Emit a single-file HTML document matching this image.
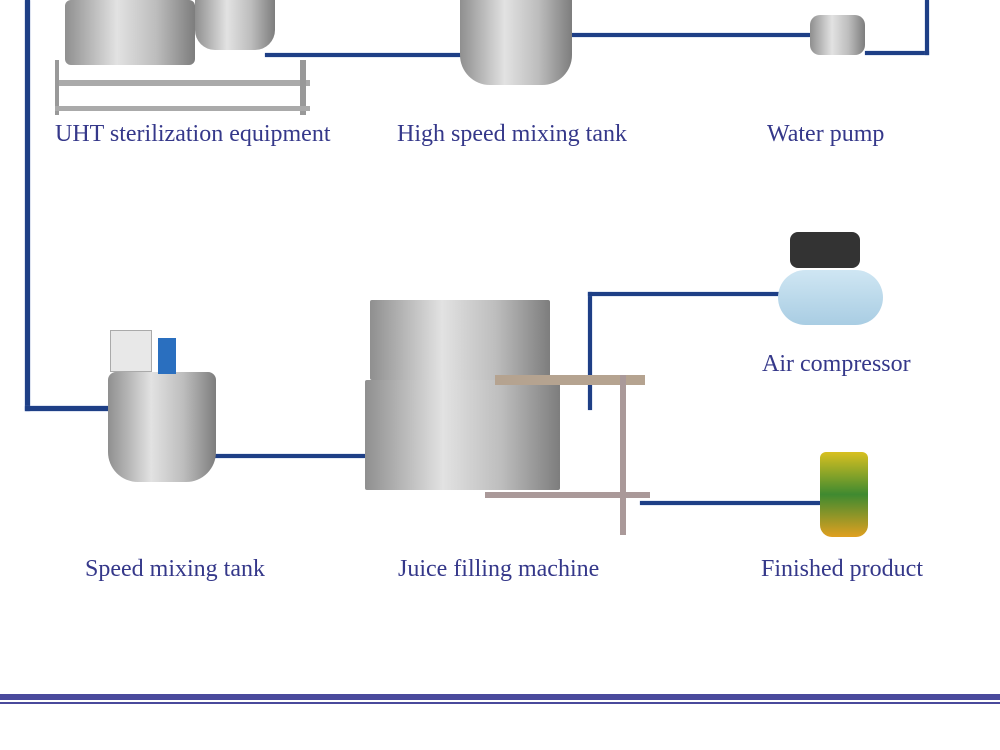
<!DOCTYPE html>
<html><head><style>
body{margin:0;width:1000px;height:750px;background:#fff;position:relative;overflow:hidden;font-family:"Liberation Serif",serif}
.l{position:absolute;background:#1e3f86;box-shadow:0 0 1px #5a78b8}
.t{position:absolute;color:#35388a;font-size:24px;white-space:nowrap}
.m{position:absolute;background:linear-gradient(90deg,#8f8f8f,#e2e2e2 40%,#bdbdbd 70%,#7d7d7d);border-radius:6px}
</style></head><body>
<div class="l" style="left:25px;top:0;width:5px;height:411px"></div>
<div class="l" style="left:25px;top:406px;width:90px;height:5px"></div>
<div class="l" style="left:265px;top:53px;width:200px;height:4px"></div>
<div class="l" style="left:570px;top:33px;width:240px;height:4px"></div>
<div class="l" style="left:865px;top:51px;width:64px;height:4px"></div>
<div class="l" style="left:925px;top:0;width:4px;height:55px"></div>
<div class="l" style="left:215px;top:454px;width:150px;height:4px"></div>
<div class="l" style="left:588px;top:292px;width:4px;height:118px"></div>
<div class="l" style="left:588px;top:292px;width:192px;height:4px"></div>
<div class="l" style="left:640px;top:501px;width:180px;height:4px"></div>
<div class="m" style="left:65px;top:0;width:130px;height:65px"></div>
<div class="m" style="left:195px;top:0;width:80px;height:50px;border-radius:0 0 20px 20px"></div>
<div style="position:absolute;left:55px;top:80px;width:255px;height:6px;background:#aaa"></div>
<div style="position:absolute;left:55px;top:60px;width:4px;height:55px;background:#999"></div>
<div style="position:absolute;left:300px;top:60px;width:6px;height:55px;background:#999"></div>
<div style="position:absolute;left:55px;top:106px;width:255px;height:5px;background:#aaa"></div>
<div class="m" style="left:460px;top:0;width:112px;height:85px;border-radius:0 0 30px 30px"></div>
<div class="m" style="left:810px;top:15px;width:55px;height:40px;border-radius:10px"></div>
<div style="position:absolute;left:778px;top:270px;width:105px;height:55px;background:linear-gradient(#cfe6f3,#a9cde3);border-radius:28px"></div>
<div style="position:absolute;left:790px;top:232px;width:70px;height:36px;background:#333;border-radius:8px"></div>
<div class="m" style="left:108px;top:372px;width:108px;height:110px;border-radius:8px 8px 30px 30px"></div>
<div style="position:absolute;left:110px;top:330px;width:40px;height:40px;background:#e8e8e8;border:1px solid #aaa"></div>
<div style="position:absolute;left:158px;top:338px;width:18px;height:36px;background:#2a6fbf"></div>
<div class="m" style="left:370px;top:300px;width:180px;height:80px;border-radius:2px"></div>
<div class="m" style="left:365px;top:380px;width:195px;height:110px;border-radius:2px"></div>
<div style="position:absolute;left:495px;top:375px;width:150px;height:10px;background:#b5a390"></div>
<div style="position:absolute;left:620px;top:375px;width:6px;height:160px;background:#a99"></div>
<div style="position:absolute;left:485px;top:492px;width:165px;height:6px;background:#a99"></div>
<div style="position:absolute;left:820px;top:452px;width:48px;height:85px;background:linear-gradient(#d8c020,#3f8a30 50%,#e0a020);border-radius:6px 6px 12px 12px"></div>
<div class="t" style="left:55px;top:121px">UHT sterilization equipment</div>
<div class="t" style="left:397px;top:121px">High speed mixing tank</div>
<div class="t" style="left:767px;top:121px">Water pump</div>
<div class="t" style="left:762px;top:351px">Air compressor</div>
<div class="t" style="left:85px;top:556px">Speed mixing tank</div>
<div class="t" style="left:398px;top:556px">Juice filling machine</div>
<div class="t" style="left:761px;top:556px">Finished product</div>
<div style="position:absolute;left:0;top:694px;width:1000px;height:6px;background:#4a4a9c"></div>
<div style="position:absolute;left:0;top:702px;width:1000px;height:2px;background:#4a4a9c"></div>
</body></html>
